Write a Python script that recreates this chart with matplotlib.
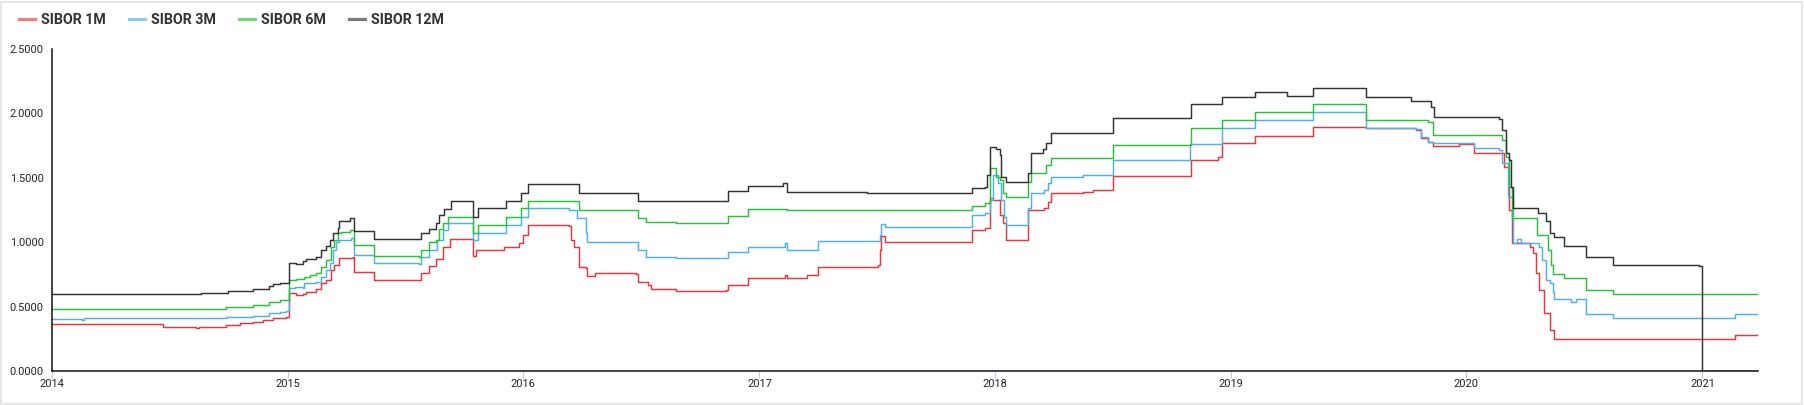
import matplotlib
matplotlib.use("Agg")
import matplotlib.pyplot as plt
import matplotlib.dates as mdates
from matplotlib.lines import Line2D
from matplotlib.patches import Rectangle
import numpy as np
import pandas as pd

plt.rcParams['font.family'] = ['Roboto', 'DejaVu Sans']

# SIBOR fixings as (date the level starts, level)
sibor_1m = [
    ("2014-01-01", 0.362), ("2014-06-22", 0.344), ("2014-08-12", 0.331), ("2014-08-17", 0.339),
    ("2014-09-28", 0.357), ("2014-10-19", 0.370), ("2014-11-08", 0.383), ("2014-11-24", 0.396),
    ("2014-12-09", 0.409), ("2014-12-30", 0.422), ("2015-01-03", 0.603), ("2015-01-14", 0.590),
    ("2015-01-25", 0.598), ("2015-01-30", 0.616), ("2015-02-14", 0.634), ("2015-02-22", 0.681),
    ("2015-03-02", 0.707), ("2015-03-09", 0.784), ("2015-03-14", 0.823), ("2015-03-22", 0.875),
    ("2015-04-12", 0.888), ("2015-04-14", 0.769), ("2015-05-15", 0.707), ("2015-07-27", 0.764),
    ("2015-08-08", 0.816), ("2015-08-19", 0.867), ("2015-08-29", 0.966), ("2015-09-09", 1.023),
    ("2015-10-15", 0.893), ("2015-10-20", 0.940), ("2015-12-03", 0.966), ("2015-12-26", 0.990),
    ("2016-01-01", 1.055), ("2016-01-08", 1.134), ("2016-03-12", 1.126), ("2016-03-15", 1.018),
    ("2016-03-20", 0.966), ("2016-03-27", 0.811), ("2016-04-07", 0.798), ("2016-04-09", 0.738),
    ("2016-04-22", 0.764), ("2016-06-24", 0.754), ("2016-06-27", 0.693), ("2016-07-12", 0.668),
    ("2016-07-17", 0.634), ("2016-08-25", 0.624), ("2016-11-10", 0.629), ("2016-11-13", 0.668),
    ("2016-12-14", 0.720), ("2017-02-09", 0.745), ("2017-02-12", 0.720), ("2017-03-15", 0.745),
    ("2017-04-02", 0.811), ("2017-07-03", 0.823), ("2017-07-06", 0.940), ("2017-07-09", 1.051),
    ("2017-07-14", 1.004), ("2017-11-26", 1.095), ("2017-12-16", 1.108), ("2017-12-24", 1.341),
    ("2017-12-29", 1.330), ("2018-01-08", 1.210), ("2018-01-13", 1.146), ("2018-01-18", 1.017),
    ("2018-02-21", 1.250), ("2018-03-18", 1.263), ("2018-03-24", 1.314), ("2018-03-29", 1.380),
    ("2018-05-17", 1.393), ("2018-06-01", 1.405), ("2018-07-02", 1.514), ("2018-10-31", 1.638),
    ("2018-12-13", 1.659), ("2018-12-19", 1.768), ("2019-02-08", 1.824), ("2019-05-09", 1.892),
    ("2019-07-30", 1.884), ("2019-10-15", 1.871), ("2019-10-23", 1.806), ("2019-11-02", 1.780),
    ("2019-11-10", 1.746), ("2019-12-21", 1.760), ("2020-01-13", 1.695), ("2020-02-21", 1.690),
    ("2020-02-28", 1.586), ("2020-03-08", 1.250), ("2020-03-12", 0.996), ("2020-04-08", 0.960),
    ("2020-04-13", 0.913), ("2020-04-18", 0.758), ("2020-04-23", 0.629), ("2020-05-01", 0.448),
    ("2020-05-09", 0.319), ("2020-05-16", 0.252), ("2021-02-20", 0.280), ("2021-03-28", 0.285),
]

sibor_3m = [
    ("2014-01-01", 0.406), ("2014-02-16", 0.398), ("2014-02-20", 0.409), ("2014-08-17", 0.411),
    ("2014-09-28", 0.422), ("2014-11-08", 0.427), ("2014-12-03", 0.447), ("2014-12-20", 0.458),
    ("2014-12-30", 0.468), ("2015-01-03", 0.642), ("2015-01-12", 0.655), ("2015-01-25", 0.642),
    ("2015-01-27", 0.681), ("2015-02-14", 0.694), ("2015-02-22", 0.732), ("2015-03-02", 0.784),
    ("2015-03-07", 0.836), ("2015-03-12", 0.940), ("2015-03-17", 1.004), ("2015-03-22", 1.018),
    ("2015-04-09", 1.036), ("2015-04-14", 0.898), ("2015-05-15", 0.836), ("2015-07-24", 0.828),
    ("2015-07-27", 0.882), ("2015-08-08", 0.940), ("2015-08-21", 1.018), ("2015-08-29", 1.095),
    ("2015-09-06", 1.146), ("2015-10-15", 1.018), ("2015-10-23", 1.069), ("2015-12-06", 1.134),
    ("2015-12-29", 1.198), ("2016-01-08", 1.262), ("2016-03-12", 1.250), ("2016-03-25", 1.185),
    ("2016-04-07", 1.069), ("2016-04-09", 1.004), ("2016-06-27", 0.940), ("2016-07-09", 0.882),
    ("2016-08-25", 0.875), ("2016-11-13", 0.927), ("2016-12-14", 0.966), ("2017-02-09", 0.990),
    ("2017-02-12", 0.941), ("2017-04-02", 1.009), ("2017-07-06", 1.058), ("2017-07-09", 1.141),
    ("2017-07-14", 1.120), ("2017-11-26", 1.211), ("2017-12-16", 1.224), ("2017-12-24", 1.328),
    ("2017-12-29", 1.522), ("2018-01-05", 1.460), ("2018-01-10", 1.330), ("2018-01-15", 1.198),
    ("2018-01-18", 1.133), ("2018-02-21", 1.263), ("2018-02-26", 1.380), ("2018-03-18", 1.405),
    ("2018-03-24", 1.457), ("2018-03-29", 1.509), ("2018-05-17", 1.520), ("2018-07-02", 1.638),
    ("2018-10-30", 1.760), ("2018-12-19", 1.889), ("2019-02-08", 1.949), ("2019-05-09", 2.011),
    ("2019-07-30", 1.889), ("2019-10-15", 1.876), ("2019-10-23", 1.819), ("2019-11-02", 1.780),
    ("2019-11-10", 1.770), ("2020-01-13", 1.728), ("2020-02-21", 1.716), ("2020-02-26", 1.613),
    ("2020-03-05", 1.354), ("2020-03-13", 0.996), ("2020-03-20", 1.022), ("2020-03-26", 0.996),
    ("2020-04-23", 0.966), ("2020-04-28", 0.862), ("2020-05-04", 0.707), ("2020-05-09", 0.681),
    ("2020-05-14", 0.616), ("2020-05-16", 0.559), ("2020-06-12", 0.538), ("2020-06-19", 0.559),
    ("2020-07-04", 0.440), ("2020-08-15", 0.409), ("2021-02-20", 0.440), ("2021-03-28", 0.440),
]

sibor_6m = [
    ("2014-01-01", 0.484), ("2014-03-26", 0.479), ("2014-08-17", 0.484), ("2014-09-28", 0.497),
    ("2014-11-08", 0.513), ("2014-12-03", 0.537), ("2014-12-20", 0.555), ("2015-01-03", 0.706),
    ("2015-01-14", 0.711), ("2015-01-27", 0.732), ("2015-02-04", 0.745), ("2015-02-14", 0.764),
    ("2015-02-22", 0.810), ("2015-03-02", 0.862), ("2015-03-09", 0.966), ("2015-03-14", 1.018),
    ("2015-03-20", 1.069), ("2015-03-25", 1.083), ("2015-04-07", 1.096), ("2015-04-14", 0.976),
    ("2015-05-15", 0.893), ("2015-07-24", 0.885), ("2015-07-27", 0.940), ("2015-08-08", 1.004),
    ("2015-08-19", 1.018), ("2015-08-24", 1.100), ("2015-08-29", 1.146), ("2015-09-06", 1.193),
    ("2015-10-15", 1.074), ("2015-10-23", 1.134), ("2015-12-06", 1.193), ("2015-12-29", 1.263),
    ("2016-01-08", 1.322), ("2016-03-27", 1.250), ("2016-06-27", 1.185), ("2016-07-09", 1.159),
    ("2016-08-25", 1.151), ("2016-11-13", 1.203), ("2016-12-14", 1.258), ("2017-02-12", 1.253),
    ("2017-11-26", 1.284), ("2017-12-16", 1.302), ("2017-12-24", 1.574), ("2018-01-03", 1.503),
    ("2018-01-08", 1.483), ("2018-01-13", 1.380), ("2018-01-18", 1.348), ("2018-02-21", 1.470),
    ("2018-02-26", 1.535), ("2018-03-21", 1.600), ("2018-03-29", 1.657), ("2018-07-02", 1.755),
    ("2018-10-31", 1.884), ("2018-12-19", 1.949), ("2019-02-08", 2.008), ("2019-05-09", 2.070),
    ("2019-07-30", 1.949), ("2019-11-02", 1.936), ("2019-11-10", 1.835), ("2020-02-21", 1.832),
    ("2020-02-26", 1.794), ("2020-03-03", 1.664), ("2020-03-08", 1.430), ("2020-03-12", 1.185),
    ("2020-04-19", 1.056), ("2020-05-06", 0.940), ("2020-05-11", 0.823), ("2020-05-15", 0.754),
    ("2020-06-01", 0.720), ("2020-07-04", 0.629), ("2020-08-15", 0.598), ("2021-03-28", 0.595),
]

sibor_12m = [
    ("2014-01-01", 0.600), ("2014-03-26", 0.597), ("2014-08-20", 0.605), ("2014-10-01", 0.624),
    ("2014-11-08", 0.639), ("2014-12-03", 0.662), ("2014-12-09", 0.675), ("2014-12-20", 0.683),
    ("2015-01-03", 0.841), ("2015-01-14", 0.831), ("2015-01-25", 0.856), ("2015-01-30", 0.872),
    ("2015-02-14", 0.888), ("2015-02-22", 0.940), ("2015-03-02", 0.970), ("2015-03-07", 1.017),
    ("2015-03-12", 1.068), ("2015-03-20", 1.107), ("2015-03-22", 1.167), ("2015-04-07", 1.185),
    ("2015-04-14", 1.087), ("2015-05-15", 1.022), ("2015-07-27", 1.068), ("2015-08-08", 1.100),
    ("2015-08-19", 1.146), ("2015-08-24", 1.210), ("2015-09-01", 1.255), ("2015-09-11", 1.322),
    ("2015-10-15", 1.198), ("2015-10-23", 1.263), ("2015-12-06", 1.322), ("2015-12-29", 1.384),
    ("2016-01-08", 1.449), ("2016-03-27", 1.384), ("2016-06-27", 1.317), ("2016-11-13", 1.397),
    ("2016-12-14", 1.439), ("2017-02-07", 1.457), ("2017-02-12", 1.390), ("2017-06-16", 1.379),
    ("2017-11-26", 1.418), ("2017-12-16", 1.431), ("2017-12-19", 1.521), ("2017-12-24", 1.741),
    ("2018-01-03", 1.720), ("2018-01-08", 1.677), ("2018-01-10", 1.509), ("2018-01-18", 1.470),
    ("2018-02-21", 1.535), ("2018-02-26", 1.694), ("2018-03-16", 1.720), ("2018-03-21", 1.773),
    ("2018-03-29", 1.845), ("2018-07-02", 1.967), ("2018-10-31", 2.073), ("2018-12-19", 2.130),
    ("2019-02-08", 2.163), ("2019-03-29", 2.135), ("2019-05-09", 2.197), ("2019-07-30", 2.130),
    ("2019-10-07", 2.099), ("2019-11-07", 2.052), ("2019-11-12", 1.975), ("2020-02-21", 1.960),
    ("2020-02-26", 1.870), ("2020-03-03", 1.690), ("2020-03-07", 1.640), ("2020-03-10", 1.430),
    ("2020-03-13", 1.268), ("2020-04-21", 1.224), ("2020-05-04", 1.167), ("2020-05-09", 1.068),
    ("2020-05-16", 1.043), ("2020-06-01", 0.973), ("2020-07-04", 0.888), ("2020-08-15", 0.823),
    ("2020-12-27", 0.818), ("2021-01-01", 0.003), ("2021-03-28", 0.003),
]

series_labels = ["SIBOR 1M", "SIBOR 3M", "SIBOR 6M", "SIBOR 12M"]
series_colors = ["#e3383d", "#4fb1e6", "#2cbf3d", "#333333"]
year_ticks = [str(y) for y in range(2014, 2022)]
y_ticks = [0.0, 0.5, 1.0, 1.5, 2.0, 2.5]

W, H = 1804, 405
fig = plt.figure(figsize=(W / 100, H / 100), dpi=100)
ax = fig.add_axes([52 / W, 1 - 371 / H, (1758 - 52) / W, (371 - 49) / H])

for data, label, color in zip([sibor_1m, sibor_3m, sibor_6m, sibor_12m], series_labels, series_colors):
    dates = pd.to_datetime([d for d, _ in data])
    values = np.array([v for _, v in data])
    ax.plot(dates, values, drawstyle='steps-post', color=color, linewidth=1.05, label=label)

ax.set_xlim(pd.Timestamp("2014-01-01"), pd.Timestamp("2021-03-28"))
ax.set_ylim(0, 2.5)
ax.set_xticks(pd.to_datetime([y + "-01-01" for y in year_ticks]))
ax.xaxis.set_major_formatter(mdates.DateFormatter('%Y'))
ax.set_yticks(y_ticks)
ax.set_yticklabels(['{:.4f}'.format(t) for t in y_ticks])

ax.spines['top'].set_visible(False)
ax.spines['right'].set_visible(False)
for side in ['left', 'bottom']:
    ax.spines[side].set_color('#111111')
    ax.spines[side].set_linewidth(1.1)

ax.tick_params(axis='y', length=0, pad=6, labelsize=7.9, labelcolor='#222222')
ax.tick_params(axis='x', length=5, width=0.8, color='#c4c8ee', pad=0.5, labelsize=7.9, labelcolor='#222222')

# legend with short light handles, across the top left
handles = [Line2D([0], [0], color=c, linewidth=2.3, alpha=0.65) for c in series_colors]
fig.legend(handles, series_labels, loc='upper left', bbox_to_anchor=(19 / W, 1 - 13 / H),
           ncol=4, frameon=False, prop={'weight': 'bold', 'size': 10.3},
           handlelength=1.15, handletextpad=0.4, columnspacing=1.6,
           borderpad=0, borderaxespad=0, labelcolor='#333333')

# thin grey frame around the card
fig.patches.append(Rectangle((1 / W, 1 / H), 1 - 3 / W, 1 - 3 / H, transform=fig.transFigure,
                             fill=False, edgecolor='#e2e2e2', linewidth=1.2))

fig.savefig('out.png', dpi=100)
